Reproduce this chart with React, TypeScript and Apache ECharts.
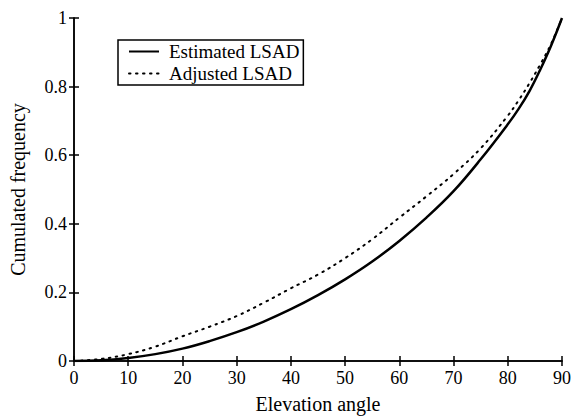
import React, { useEffect, useRef } from "react";
import * as echarts from "echarts";

const angles = [0, 5, 10, 15, 20, 25, 30, 35, 40, 45, 50, 55, 60, 65, 70, 75, 80, 82, 84, 86, 88, 90];
const estimated = [0, 0.002, 0.009, 0.02, 0.036, 0.058, 0.084, 0.115, 0.151, 0.192, 0.238, 0.29, 0.35, 0.418, 0.495, 0.588, 0.69, 0.735, 0.787, 0.85, 0.92, 1.0];
const adjusted = [0, 0.006, 0.02, 0.042, 0.072, 0.1, 0.131, 0.17, 0.212, 0.252, 0.3, 0.355, 0.418, 0.48, 0.545, 0.62, 0.715, 0.76, 0.81, 0.865, 0.925, 1.0];
const seriesNames = ["Estimated LSAD", "Adjusted LSAD"];
const xTitle = "Elevation angle";
const yTitle = "Cumulated frequency";

const FONT = "Liberation Serif";

export default function App() {
  const ref = useRef<HTMLDivElement>(null);
  useEffect(() => {
    if (!ref.current) return;
    const chart = echarts.init(ref.current, undefined, { renderer: "svg" });
    const axisLine = { show: true, lineStyle: { color: "#000", width: 1.5 } };
    const tick = { show: true, inside: true, length: 5, lineStyle: { color: "#000", width: 1.5 } };
    chart.setOption({
      animation: false,
      backgroundColor: "#fff",
      grid: { left: 74, right: 11, top: 18, bottom: 57 },
      legend: {
        orient: "vertical",
        left: 118,
        top: 40,
        itemWidth: 30,
        itemHeight: 10,
        itemGap: 3,
        padding: [2, 4, 2, 10],
        borderColor: "#000",
        borderWidth: 1.5,
        borderRadius: 0,
        backgroundColor: "#fff",
        itemStyle: { color: "transparent", borderWidth: 0, opacity: 0 },
        textStyle: { color: "#000", fontFamily: FONT, fontSize: 19, lineHeight: 16, padding: [0, 0, 0, 5] },
        data: seriesNames,
      },
      xAxis: [
        {
          type: "value",
          min: 0,
          max: 90,
          interval: 10,
          position: "bottom",
          name: xTitle,
          nameLocation: "middle",
          nameGap: 33,
          nameTextStyle: { color: "#000", fontFamily: FONT, fontSize: 20 },
          axisLine,
          axisTick: tick,
          axisLabel: { color: "#000", fontFamily: FONT, fontSize: 18, margin: 8 },
          splitLine: { show: false },
        },
        {
          type: "value",
          min: 0,
          max: 90,
          interval: 10,
          position: "top",
          axisLine,
          axisTick: tick,
          axisLabel: { show: false },
          splitLine: { show: false },
        },
      ],
      yAxis: [
        {
          type: "value",
          min: 0,
          max: 1,
          interval: 0.2,
          position: "left",
          name: yTitle,
          nameLocation: "middle",
          nameGap: 46,
          nameTextStyle: { color: "#000", fontFamily: FONT, fontSize: 20 },
          axisLine,
          axisTick: tick,
          axisLabel: { color: "#000", fontFamily: FONT, fontSize: 18, margin: 7 },
          splitLine: { show: false },
        },
        {
          type: "value",
          min: 0,
          max: 1,
          interval: 0.2,
          position: "right",
          axisLine,
          axisTick: tick,
          axisLabel: { show: false },
          splitLine: { show: false },
        },
      ],
      series: [
        {
          name: seriesNames[0],
          type: "line",
          smooth: 0.4,
          symbol: "none",
          showSymbol: false,
          xAxisIndex: 0,
          yAxisIndex: 0,
          data: angles.map((a, i) => [a, estimated[i]]),
          lineStyle: { color: "#000", width: 2.5, type: "solid" },
          itemStyle: { color: "#000" },
        },
        {
          name: seriesNames[1],
          type: "line",
          smooth: 0.4,
          symbol: "none",
          showSymbol: false,
          xAxisIndex: 0,
          yAxisIndex: 0,
          data: angles.map((a, i) => [a, adjusted[i]]),
          lineStyle: { color: "#000", width: 2, type: [1.5, 5.5], cap: "round" },
          itemStyle: { color: "#000" },
        },
      ],
    });
    return () => chart.dispose();
  }, []);
  return (
    <div
      ref={ref}
      style={{ position: "fixed", left: 0, top: 0, width: 574, height: 419, background: "#fff" }}
    />
  );
}
